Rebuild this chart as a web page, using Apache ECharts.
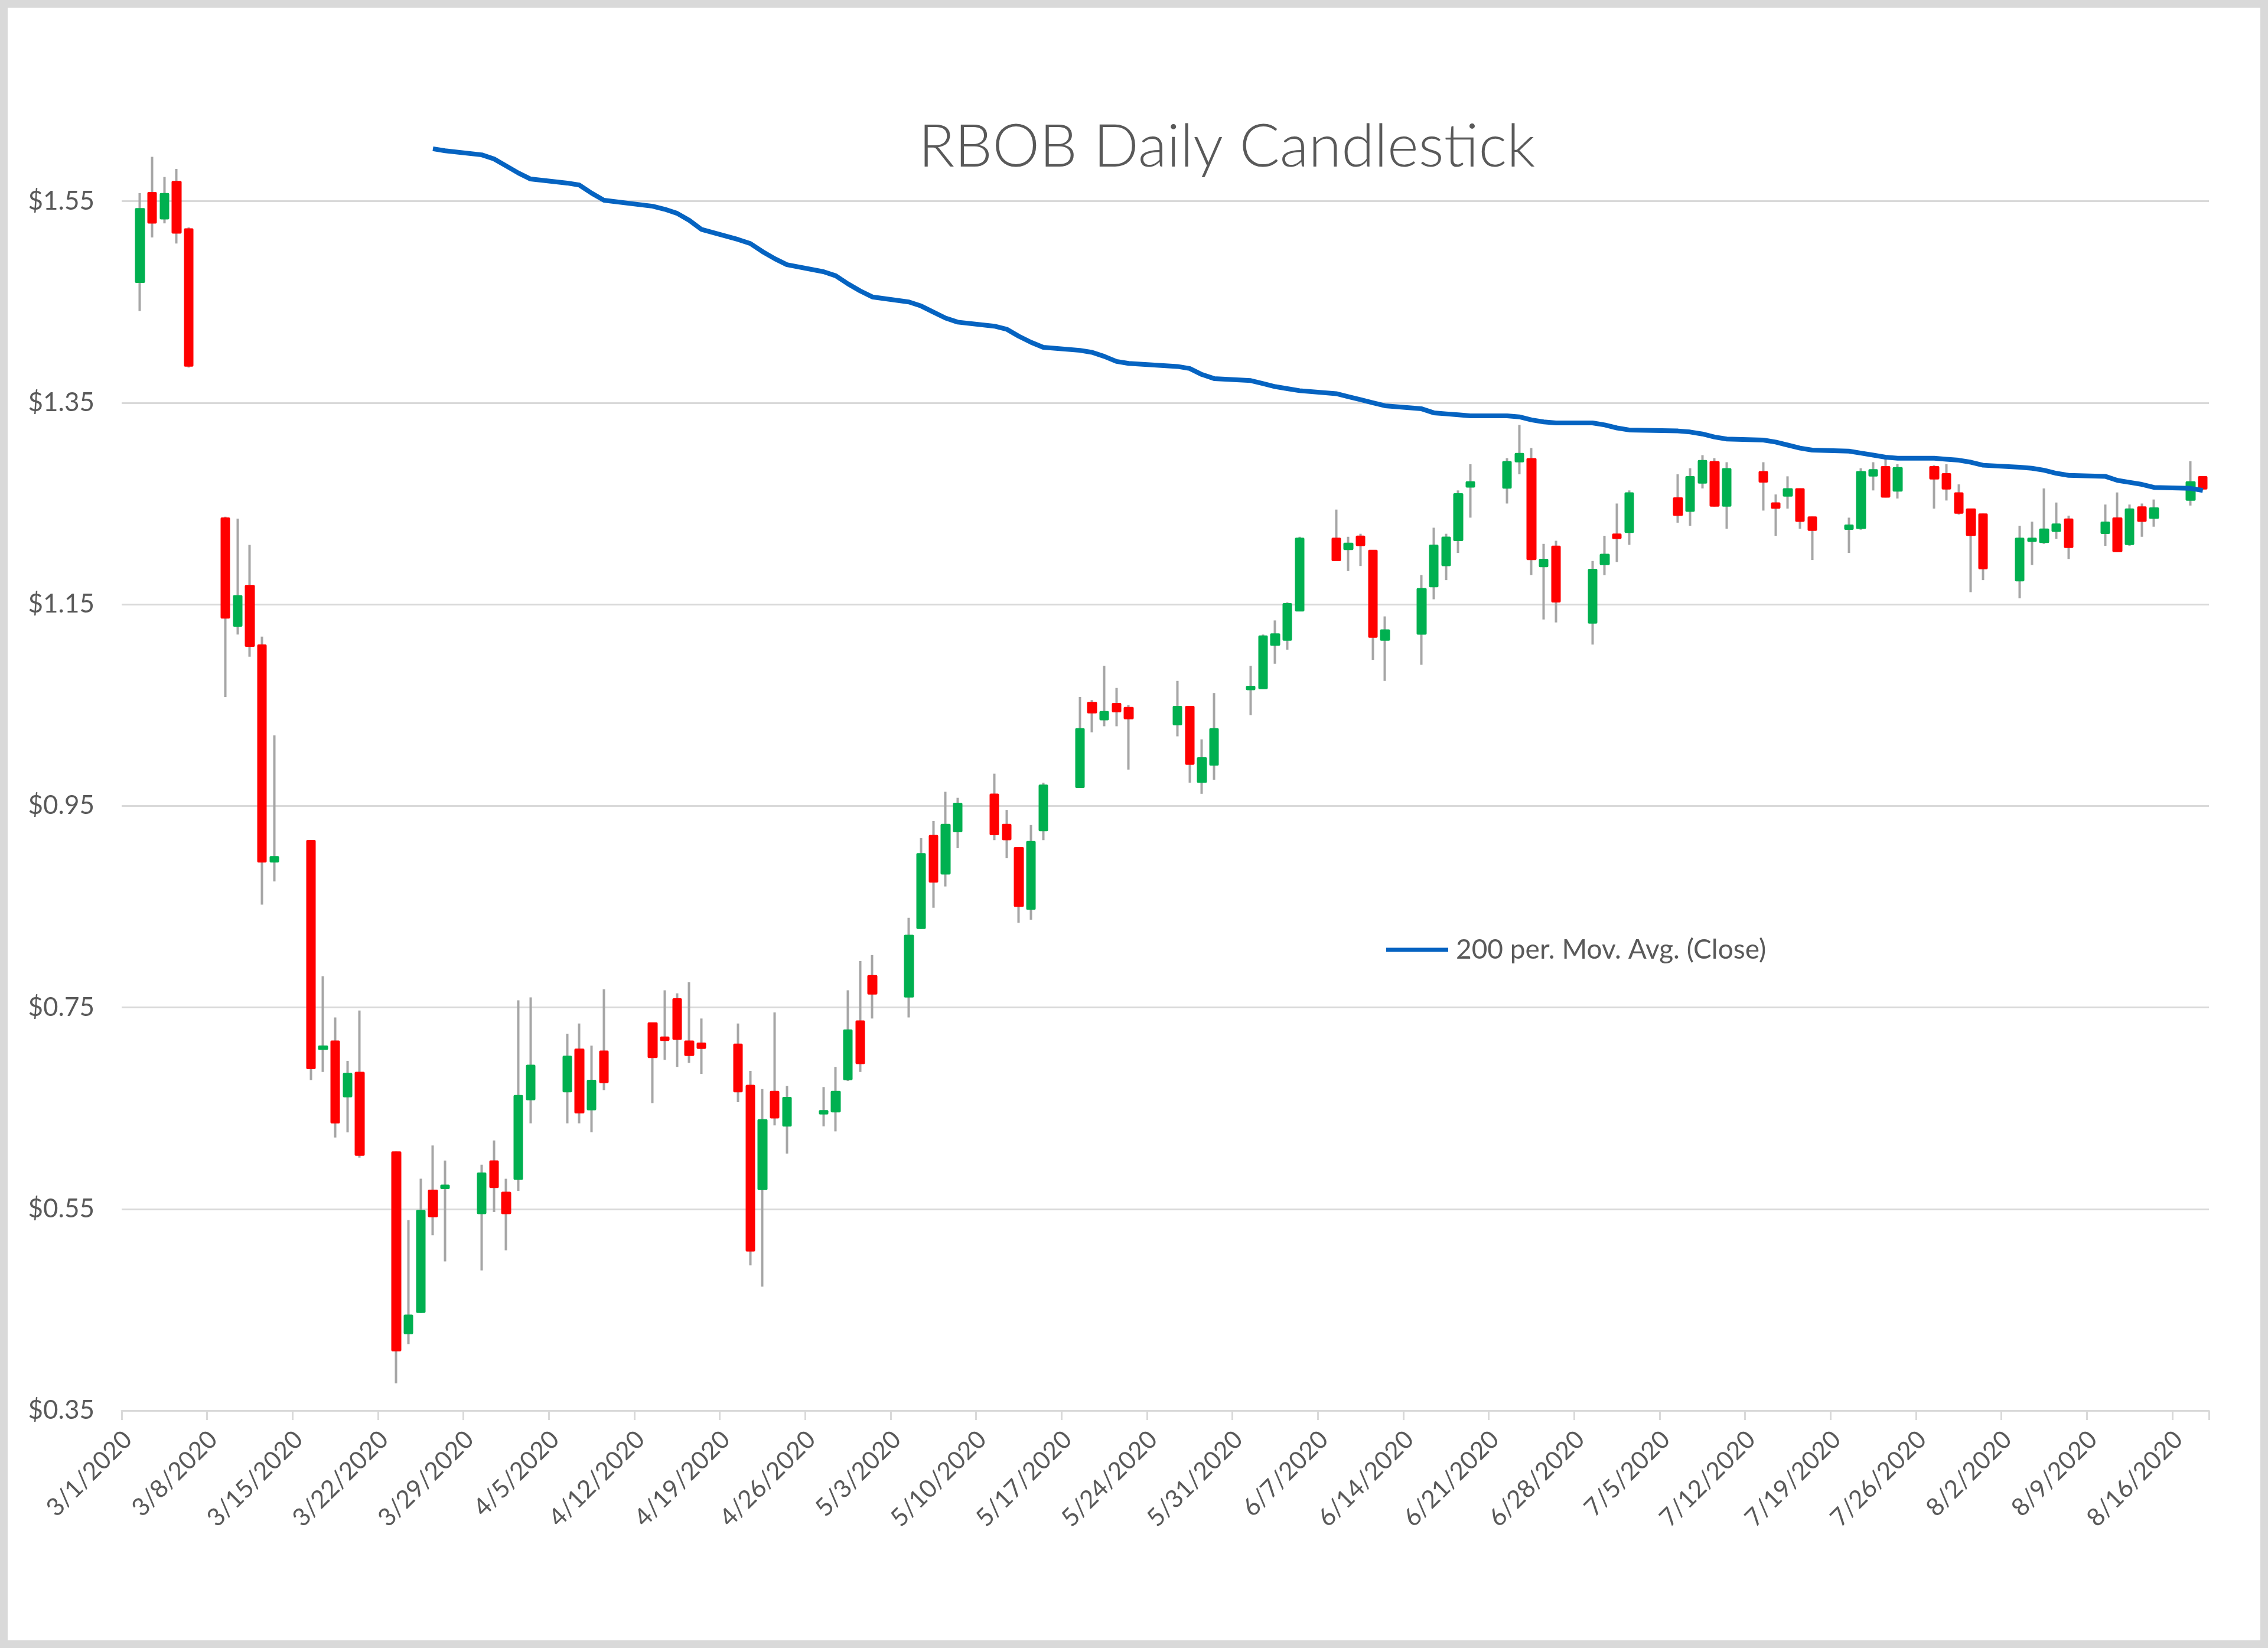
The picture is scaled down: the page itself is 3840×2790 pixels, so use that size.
<!DOCTYPE html>
<html><head><meta charset="utf-8">
<script src="https://cdn.jsdelivr.net/npm/echarts@6/dist/echarts.min.js"></script>
<style>html,body{margin:0;padding:0;background:#fff}#c{width:3840px;height:2790px}</style>
</head><body><div id="c"></div>
<script>
const tradeDates = ['3/2','3/3','3/4','3/5','3/6','3/9','3/10','3/11','3/12','3/13','3/16','3/17','3/18','3/19','3/20','3/23','3/24','3/25','3/26','3/27','3/30','3/31',
'4/1','4/2','4/3','4/6','4/7','4/8','4/9','4/13','4/14','4/15','4/16','4/17','4/20','4/21','4/22','4/23','4/24','4/27','4/28','4/29','4/30',
'5/1','5/4','5/5','5/6','5/7','5/8','5/11','5/12','5/13','5/14','5/15','5/18','5/19','5/20','5/21','5/22','5/26','5/27','5/28','5/29',
'6/1','6/2','6/3','6/4','6/5','6/8','6/9','6/10','6/11','6/12','6/15','6/16','6/17','6/18','6/19','6/22','6/23','6/24','6/25','6/26','6/29','6/30',
'7/1','7/2','7/6','7/7','7/8','7/9','7/10','7/13','7/14','7/15','7/16','7/17','7/20','7/21','7/22','7/23','7/24','7/27','7/28','7/29','7/30','7/31',
'8/3','8/4','8/5','8/6','8/7','8/10','8/11','8/12','8/13','8/14','8/17','8/18'];

const opens = [1.470,1.558,1.533,1.569,1.522,1.235,1.129,1.168,1.109,0.895,0.915,0.709,0.716,0.662,0.685,0.606,0.427,0.448,0.568,0.571,0.546,0.597,
0.566,0.580,0.659,0.667,0.708,0.649,0.706,0.734,0.720,0.758,0.716,0.714,0.713,0.672,0.570,0.666,0.633,0.645,0.647,0.679,0.736,
0.781,0.761,0.829,0.920,0.883,0.925,0.961,0.931,0.908,0.848,0.926,0.969,1.052,1.036,1.051,1.047,1.031,1.048,0.974,0.991,
1.066,1.067,1.110,1.115,1.144,1.215,1.205,1.217,1.203,1.115,1.121,1.168,1.189,1.214,1.267,1.266,1.292,1.294,1.188,1.207,1.132,1.190,
1.219,1.222,1.255,1.243,1.271,1.291,1.248,1.281,1.250,1.258,1.264,1.236,1.225,1.226,1.278,1.286,1.263,1.286,1.279,1.260,1.244,1.239,
1.174,1.213,1.212,1.223,1.234,1.221,1.235,1.210,1.246,1.236,1.254,1.276];

const highs = [1.558,1.594,1.574,1.582,1.524,1.237,1.235,1.209,1.118,1.020,0.916,0.781,0.740,0.697,0.747,0.607,0.539,0.580,0.613,0.598,0.594,0.618,
0.580,0.757,0.760,0.724,0.734,0.712,0.768,0.735,0.767,0.764,0.775,0.739,0.734,0.687,0.669,0.745,0.672,0.671,0.691,0.767,0.796,
0.802,0.839,0.918,0.935,0.964,0.958,0.982,0.946,0.909,0.931,0.973,1.058,1.055,1.089,1.067,1.050,1.074,1.049,1.016,1.062,
1.089,1.120,1.134,1.152,1.217,1.244,1.217,1.220,1.204,1.138,1.179,1.226,1.220,1.263,1.289,1.295,1.328,1.305,1.210,1.213,1.193,1.218,
1.250,1.263,1.279,1.285,1.298,1.295,1.291,1.291,1.259,1.277,1.265,1.237,1.236,1.285,1.291,1.296,1.289,1.288,1.289,1.269,1.245,1.240,
1.228,1.232,1.265,1.251,1.238,1.249,1.261,1.249,1.250,1.254,1.292,1.277];

const lows = [1.441,1.514,1.528,1.508,1.385,1.058,1.120,1.098,0.852,0.875,0.678,0.686,0.621,0.626,0.601,0.377,0.416,0.447,0.524,0.498,0.489,0.547,
0.509,0.568,0.635,0.635,0.635,0.626,0.668,0.655,0.698,0.691,0.695,0.684,0.656,0.494,0.473,0.633,0.605,0.632,0.627,0.677,0.686,
0.739,0.740,0.828,0.849,0.870,0.908,0.916,0.898,0.834,0.837,0.916,0.968,1.023,1.029,1.029,0.986,1.019,0.973,0.962,0.976,
1.040,1.066,1.091,1.105,1.143,1.193,1.183,1.188,1.095,1.074,1.090,1.155,1.174,1.201,1.236,1.250,1.279,1.179,1.135,1.132,1.110,1.179,
1.192,1.209,1.231,1.228,1.265,1.247,1.225,1.243,1.218,1.245,1.225,1.194,1.201,1.224,1.263,1.256,1.255,1.245,1.253,1.239,1.162,1.174,
1.156,1.189,1.210,1.215,1.195,1.208,1.202,1.208,1.217,1.227,1.248,1.264];

const closes = [1.542,1.529,1.557,1.519,1.387,1.137,1.158,1.109,0.895,0.899,0.690,0.711,0.636,0.684,0.604,0.410,0.444,0.548,0.543,0.573,0.585,0.572,
0.546,0.662,0.692,0.701,0.646,0.677,0.676,0.701,0.718,0.719,0.703,0.710,0.667,0.509,0.638,0.641,0.660,0.647,0.666,0.727,0.695,
0.764,0.821,0.902,0.875,0.931,0.952,0.922,0.917,0.851,0.914,0.970,1.026,1.043,1.043,1.044,1.037,1.048,0.992,0.997,1.026,
1.068,1.118,1.120,1.150,1.215,1.194,1.210,1.209,1.118,1.124,1.165,1.208,1.216,1.259,1.271,1.291,1.299,1.195,1.194,1.153,1.184,1.199,
1.216,1.260,1.239,1.276,1.292,1.248,1.284,1.272,1.246,1.264,1.233,1.224,1.228,1.281,1.283,1.257,1.285,1.275,1.265,1.241,1.219,1.186,
1.215,1.215,1.224,1.229,1.207,1.231,1.203,1.244,1.233,1.245,1.271,1.265];

const ma200 = [null,null,null,null,null,null,null,null,null,null,null,null,null,null,null,null,null,null,1.602,1.600,1.596,1.592,
1.585,1.578,1.572,1.568,1.566,1.558,1.551,1.545,1.542,1.538,1.531,1.522,1.512,1.508,1.500,1.493,1.487,1.480,1.476,1.468,1.461,
1.455,1.450,1.446,1.440,1.434,1.430,1.426,1.423,1.416,1.410,1.405,1.402,1.400,1.396,1.391,1.389,1.386,1.384,1.378,1.374,
1.372,1.369,1.366,1.364,1.362,1.359,1.356,1.353,1.350,1.347,1.344,1.340,1.339,1.338,1.337,1.337,1.336,1.333,1.331,1.330,1.330,1.328,
1.325,1.323,1.322,1.321,1.319,1.316,1.314,1.313,1.311,1.308,1.305,1.303,1.302,1.300,1.298,1.296,1.295,1.295,1.294,1.293,1.291,1.288,
1.286,1.285,1.283,1.280,1.278,1.277,1.273,1.271,1.269,1.266,1.265,1.263];

const yMin = 0.35, yMax = 1.65, yStep = 0.2;
const titleText = 'RBOB Daily Candlestick';
const maName = '200 per. Mov. Avg. (Close)';

// calendar-day category axis 3/1/2020 .. 8/18/2020
const cats = [];
const dt = new Date(2020, 2, 1), endDt = new Date(2020, 7, 18);
while (dt <= endDt) { cats.push((dt.getMonth()+1) + '/' + dt.getDate() + '/' + dt.getFullYear()); dt.setDate(dt.getDate()+1); }
const idx = {};
cats.forEach((c, i) => idx[c] = i);

const wickData = cats.map(() => '-');
const bodyData = cats.map(() => '-');
const maData = cats.map(() => null);
tradeDates.forEach((d, k) => {
  const i = idx[d + '/2020'];
  const o = opens[k], c = closes[k];
  wickData[i] = [o, c, lows[k], highs[k]];
  bodyData[i] = [o, c, Math.min(o, c), Math.max(o, c)];
  maData[i] = ma200[k];
});

const FONT = 'Lato, "Open Sans", sans-serif';
const GREY = '#595959';
const GRID = '#D9D9D9';
const BLUE = '#0563C1';

const chart = echarts.init(document.getElementById('c'), null, {renderer: 'canvas'});
chart.setOption({
  animation: false,
  backgroundColor: '#ffffff',
  title: {
    text: titleText,
    left: 1550, top: 194,
    textStyle: {fontFamily: FONT, fontSize: 101, fontWeight: 300, color: GREY}
  },
  legend: {
    data: [maName],
    left: 2342, top: 1580,
    icon: 'rect',
    itemWidth: 105, itemHeight: 7,
    itemStyle: {color: BLUE},
    textStyle: {fontFamily: FONT, fontSize: 46, color: GREY, padding: [0, 0, 0, 8]}
  },
  grid: {left: 206, right: 100, top: 170, bottom: 402, containLabel: false},
  xAxis: {
    type: 'category', data: cats, boundaryGap: true,
    axisLine: {show: true, lineStyle: {color: GRID, width: 3}},
    axisTick: {show: true, interval: 6, length: 16, lineStyle: {color: GRID, width: 3}},
    axisLabel: {interval: 6, rotate: 45, color: GREY, fontFamily: FONT, fontSize: 42, margin: 42},
    splitLine: {show: false}
  },
  yAxis: {
    type: 'value', min: yMin, max: yMax, interval: yStep,
    axisLine: {show: false}, axisTick: {show: false},
    axisLabel: {color: GREY, fontFamily: FONT, fontSize: 44, margin: 46,
      formatter: v => (Math.abs(v - yMax) < 1e-6 ? '' : '$' + v.toFixed(2))},
    splitLine: {show: true, showMaxLine: false, lineStyle: {color: GRID, width: 3}}
  },
  graphic: [{
    type: 'rect', silent: true, z: 100,
    shape: {x: 0, y: 0, width: 3840, height: 2790},
    style: {fill: 'none', stroke: '#D9D9D9', lineWidth: 26}
  }],
  series: [
    {
      name: 'wick', type: 'candlestick', data: wickData, barWidth: 1, clip: false,
      itemStyle: {color: '#A6A6A6', color0: '#A6A6A6', borderColor: '#A6A6A6', borderColor0: '#A6A6A6', borderWidth: 4},
      z: 2
    },
    {
      name: 'body', type: 'candlestick', data: bodyData, barWidth: 13, clip: false,
      itemStyle: {color: '#00B050', color0: '#FF0000', borderColor: '#00B050', borderColor0: '#FF0000', borderWidth: 4, borderJoin: 'round'},
      z: 3
    },
    {
      name: maName, type: 'line', data: maData, connectNulls: true, symbol: 'none', smooth: false,
      lineStyle: {color: BLUE, width: 8}, itemStyle: {color: BLUE},
      z: 4
    }
  ]
});
</script></body></html>
